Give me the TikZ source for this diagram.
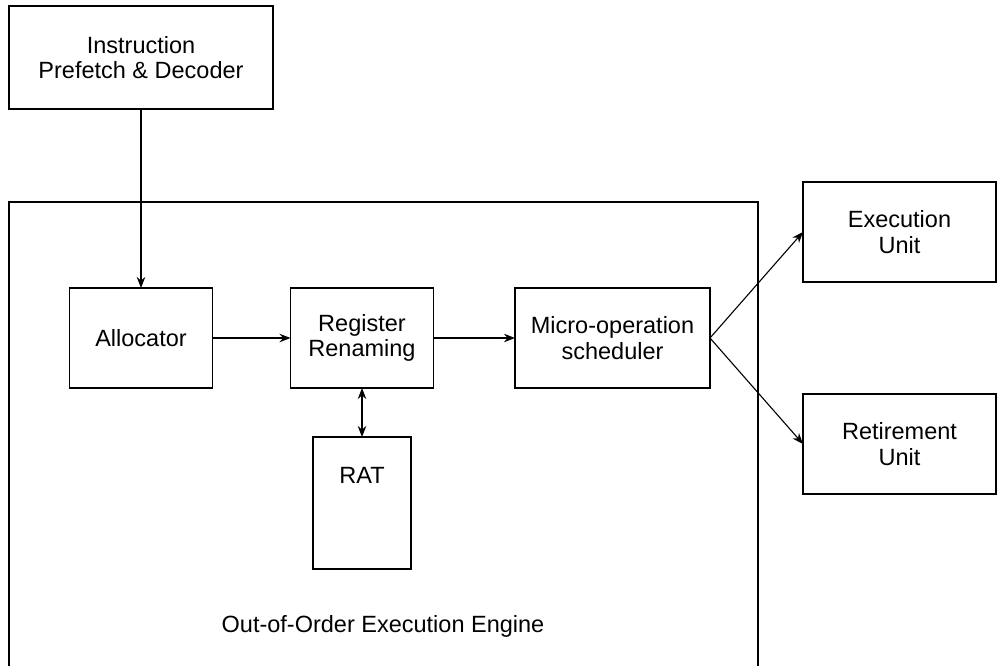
\documentclass[tikz,border=0pt]{standalone}
\usepackage{fontspec}
\setmainfont{Liberation Sans}
\usetikzlibrary{arrows.meta}
\begin{document}
\begin{tikzpicture}[x=1pt,y=-1pt,
  lbl/.style={font=\fontsize{23.5}{25.5}\selectfont},
  box/.style={draw, line width=1.2pt, inner sep=0pt, outer sep=0pt, align=center, lbl},
  conn/.style={line width=1.1pt, -{Stealth[length=11pt,width=8.5pt]}},
  dconn/.style={line width=1.1pt, {Stealth[length=11pt,width=8.5pt]}-{Stealth[length=11pt,width=8.5pt]}}]
\useasboundingbox (0,0) rectangle (997,665);
% outer engine container (open at bottom edge of picture)
\draw[line width=1.2pt] (9,666) -- (9,202) -- (758,202) -- (758,666);
\node[box, minimum width=264pt, minimum height=103pt] (ipd) at (141,57.5) {Instruction\\Prefetch \& Decoder};
\node[box, minimum width=143pt, minimum height=100pt] (alloc) at (141,338) {Allocator};
\node[box, minimum width=143pt, minimum height=100pt] (reg) at (362,338) {Register\\Renaming};
\node[box, minimum width=195pt, minimum height=100pt] (sched) at (612.5,338) {Micro-operation\\scheduler};
\node[box, minimum width=98pt, minimum height=132pt,
  label={[anchor=center, lbl, yshift=-38pt]north:RAT}] (rat) at (362,503) {};
\node[box, minimum width=193pt, minimum height=100pt] (exec) at (899.5,232) {Execution\\Unit};
\node[box, minimum width=193pt, minimum height=100pt] (ret) at (899.5,444) {Retirement\\Unit};
\node[lbl] (eng) at (383,626) {Out-of-Order Execution Engine};
\draw[conn] (ipd.south) -- (alloc.north);
\draw[conn] (alloc.east) -- (reg.west);
\draw[conn] (reg.east) -- (sched.west);
\draw[dconn] (reg.south) -- (rat.north);
\draw[conn] (sched.east) -- (exec.west);
\draw[conn] (sched.east) -- (ret.west);
\end{tikzpicture}
\end{document}
